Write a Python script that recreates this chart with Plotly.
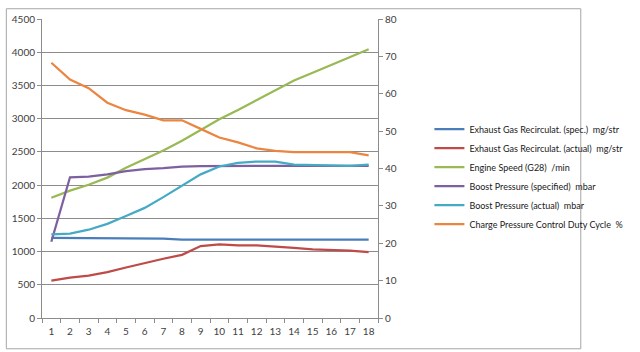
import plotly.graph_objects as go

categories = [str(i) for i in range(1, 19)]

egr_spec = [1205, 1205, 1205, 1205, 1205, 1205, 1195, 1180, 1180, 1180, 1180, 1180, 1180, 1180, 1180, 1180, 1180, 1180]
egr_actual = [563, 608, 637, 691, 760, 828, 892, 951, 1083, 1108, 1093, 1093, 1069, 1054, 1034, 1025, 1015, 990]
engine_speed = [1809, 1917, 2005, 2113, 2260, 2387, 2520, 2667, 2830, 2990, 3130, 3282, 3434, 3574, 3691, 3809, 3926, 4044]
boost_spec = [1147, 2118, 2127, 2162, 2211, 2240, 2255, 2279, 2287, 2290, 2290, 2290, 2290, 2290, 2290, 2290, 2290, 2290]
boost_actual = [1260, 1270, 1329, 1417, 1534, 1657, 1819, 1995, 2162, 2280, 2333, 2355, 2355, 2309, 2304, 2292, 2290, 2309]
duty_cycle = [68.3, 63.8, 61.5, 57.6, 55.6, 54.4, 52.9, 52.9, 50.6, 48.3, 47.0, 45.4, 44.7, 44.4, 44.4, 44.4, 44.4, 43.5]

names = [
    "Exhaust Gas Recirculat. (spec.)  mg/str",
    "Exhaust Gas Recirculat. (actual)  mg/str",
    "Engine Speed (G28)  /min",
    "Boost Pressure (specified)  mbar",
    "Boost Pressure (actual)  mbar",
    "Charge Pressure Control Duty Cycle  %",
]
colors = ["#4A7EBB", "#BE4B48", "#98B954", "#7D60A0", "#46AAC5", "#EB8540"]
left_series = [egr_spec, egr_actual, engine_speed, boost_spec, boost_actual]

fig = go.Figure()
for vals, nm, col in zip(left_series, names[:5], colors[:5]):
    fig.add_trace(go.Scatter(x=categories, y=vals, name=nm, mode="lines",
                             line=dict(color=col, width=2.25), yaxis="y"))
fig.add_trace(go.Scatter(x=categories, y=duty_cycle, name=names[5], mode="lines",
                         line=dict(color=colors[5], width=2.25), yaxis="y2"))

grid = "#8C8C8C"
tickfont = dict(family="Lato", size=10, color="#404040")

fig.update_layout(
    width=640, height=352,
    margin=dict(l=41, r=227, t=12, b=34),
    paper_bgcolor="white", plot_bgcolor="white",
    showlegend=True,
    legend=dict(x=1.153, y=0.68, xanchor="left", yanchor="top",
                font=dict(family="Lato", size=9, color="#202020"),
                bgcolor="rgba(0,0,0,0)", itemwidth=30, tracegroupgap=0),
    xaxis=dict(type="category", range=[-0.5, 17.5], showgrid=False,
               showline=True, linecolor=grid, linewidth=1, tickangle=0,
               ticks="outside", ticklen=4, tickcolor=grid, tickson="boundaries",
               ticklabelstandoff=4, tickfont=tickfont),
    yaxis=dict(range=[0, 4500], dtick=500, showgrid=True, gridcolor=grid, gridwidth=1,
               showline=True, linecolor=grid, ticks="outside", ticklen=4, tickcolor=grid,
               tickfont=tickfont, zeroline=False),
    yaxis2=dict(range=[0, 80], dtick=10, overlaying="y", side="right", showgrid=False,
                showline=True, linecolor=grid, ticks="outside", ticklen=4, tickcolor=grid,
                tickfont=tickfont, zeroline=False),
    shapes=[dict(type="rect", xref="paper", yref="paper",
                 x0=-0.1062, x1=1.6035, y0=-0.1029, y1=1.0343,
                 line=dict(color="#A6A6A6", width=1), layer="below")],
)

fig.write_html("out.html")
